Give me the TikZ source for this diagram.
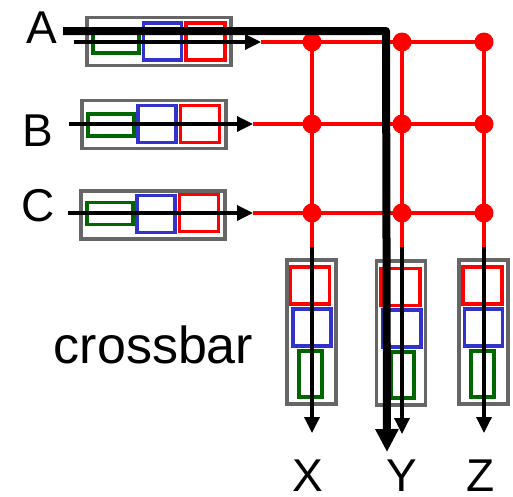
\documentclass[tikz,border=0pt]{standalone}
\usepackage{fontspec}
\setmainfont{Liberation Sans}
\usetikzlibrary{arrows.meta}
\definecolor{cellred}{RGB}{255,0,0}
\definecolor{cellblue}{RGB}{51,51,204}
\definecolor{cellgreen}{RGB}{0,102,0}
\definecolor{bufgray}{RGB}{102,102,102}

\begin{document}
\begin{tikzpicture}[x=1pt,y=-1pt,
  buffer/.style={draw=bufgray, line width=3.5pt, fill=white, inner sep=0pt, outer sep=0pt},
  hbuf/.style={buffer, minimum width=144pt, minimum height=48pt},
  vbuf/.style={buffer, minimum width=49pt, minimum height=144pt},
  cell/.style={line width=3.4pt, inner sep=0pt, outer sep=0pt},
  rcell/.style={cell, draw=cellred, minimum width=39pt, minimum height=37pt},
  bcell/.style={cell, draw=cellblue, minimum width=38pt, minimum height=37pt},
  gcell/.style={cell, draw=cellgreen, minimum width=46pt, minimum height=22pt},
  vgcell/.style={cell, draw=cellgreen, minimum width=23pt, minimum height=46pt},
  tag/.style={font=\fontsize{46}{46}\selectfont, anchor=base, inner sep=0pt},
  feed/.style={line width=3.4pt, -{Triangle[length=16pt,width=15pt]}},
  wire/.style={draw=cellred, line width=4.2pt},
  junction/.style={circle, fill=cellred, minimum size=19pt, inner sep=0pt},
  route/.style={line width=8pt, line join=round, -{Triangle[length=23pt,width=22pt]}}]

\useasboundingbox (0,0) rectangle (513,496);

% input ports with their queues
\node[hbuf] (inA) at (159,41.5) {};
\node[gcell] (inAg) at (116,42) {};
\node[bcell] (inAb) at (162.5,41.5) {};
\node[rcell] (inAr) at (205.5,41.5) {};

\node[hbuf] (inB) at (154,124.5) {};
\node[gcell] (inBg) at (111,125) {};
\node[bcell] (inBb) at (157,124) {};
\node[rcell] (inBr) at (200,124) {};

\node[hbuf] (inC) at (153,215) {};
\node[gcell] (inCg) at (110,213.5) {};
\node[bcell] (inCb) at (156,214) {};
\node[rcell] (inCr) at (199,213) {};

% output ports with their queues
\node[vbuf] (outX) at (311.5,332) {};
\node[rcell] (outXr) at (310,285.5) {};
\node[bcell] (outXb) at (312,327.5) {};
\node[vgcell] (outXg) at (310.5,374) {};

\node[vbuf] (outY) at (401,333) {};
\node[rcell] (outYr) at (400.5,287) {};
\node[bcell] (outYb) at (402,328.5) {};
\node[vgcell] (outYg) at (402.5,375) {};

\node[vbuf] (outZ) at (483.5,332) {};
\node[rcell] (outZr) at (482.5,285.5) {};
\node[bcell] (outZb) at (483.5,327.5) {};
\node[vgcell] (outZg) at (482.5,374) {};

% port labels
\node[tag] (labA) at (42,43) {A};
\node[tag] (labB) at (38,146) {B};
\node[tag] (labC) at (38,221) {C};
\node[tag] (labX) at (308,491) {X};
\node[tag] (labY) at (402,491) {Y};
\node[tag] (labZ) at (481,491) {Z};
\node[tag, font=\fontsize{52}{52}\selectfont] (labXbar) at (153.5,363) {crossbar};

% crossbar junctions
\foreach \r/\y in {A/42,B/124,C/213}{
  \foreach \c/\x in {1/312,2/402,3/484}{
    \coordinate (j\r\c) at (\x,\y);
  }
}

% feed points of the fabric
\coordinate (srcA) at (74,42);
\coordinate (srcB) at (69,124);
\coordinate (srcC) at (68,213);
\coordinate (rowA) at (261,42);
\coordinate (rowB) at (253,124);
\coordinate (rowC) at (253,213);
\coordinate (col1) at (312,247);
\coordinate (col2) at (402,247);
\coordinate (col3) at (484,247);
\coordinate (dst1) at (312,433);
\coordinate (dst2) at (402,434);
\coordinate (dst3) at (484,433);

% red fabric wires
\draw[wire] (rowA) -- (jA3);
\draw[wire] (rowB) -- (jB3);
\draw[wire] (rowC) -- (jC3);
\draw[wire] (jA1) -- (col1);
\draw[wire] (jA2) -- (col2);
\draw[wire] (jA3) -- (col3);
\foreach \r in {A,B,C}{
  \foreach \c in {1,2,3}{
    \node[junction] (d\r\c) at (j\r\c) {};
  }
}

% packet arrows into and out of the fabric
\draw[feed] (srcA) -- (rowA);
\draw[feed] (srcB) -- (rowB);
\draw[feed] (srcC) -- (rowC);
\draw[feed] (col1) -- (dst1);
\draw[feed] (col2) -- (dst2);
\draw[feed] (col3) -- (dst3);

% path from A to Y through the crossbar
\coordinate (routeA) at (63,31);
\coordinate (bend) at (386,31);
\coordinate (routeY) at (387,452);
\draw[route] (routeA) -- (bend) -- (routeY);

\end{tikzpicture}
\end{document}
